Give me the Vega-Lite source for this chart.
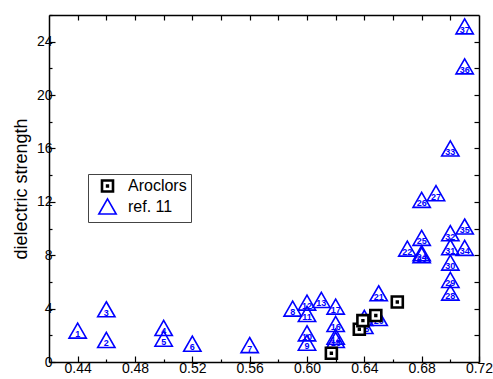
{
  "$schema": "https://vega.github.io/schema/vega-lite/v6.json",
  "width": 430,
  "height": 347,
  "autosize": {"type": "none"},
  "padding": {"left": 49, "top": 15, "right": 14, "bottom": 17},
  "background": "white",
  "config": {
    "view": {"stroke": null},
    "font": "Liberation Sans",
    "axis": {"grid": false, "domainColor": "black", "tickColor": "black", "labelColor": "black", "labelFontSize": 14, "domainWidth": 1.5, "tickWidth": 1.2, "titleColor": "black", "labelFont": "Liberation Sans", "titleFont": "Liberation Sans"}
  },
  "data": {"values": [
    {"series": "ref. 11", "x": 0.44, "y": 2.35, "label": "1"},
    {"series": "ref. 11", "x": 0.46, "y": 1.65, "label": "2"},
    {"series": "ref. 11", "x": 0.46, "y": 3.95, "label": "3"},
    {"series": "ref. 11", "x": 0.50, "y": 2.55, "label": "4"},
    {"series": "ref. 11", "x": 0.50, "y": 1.75, "label": "5"},
    {"series": "ref. 11", "x": 0.52, "y": 1.37, "label": "6"},
    {"series": "ref. 11", "x": 0.56, "y": 1.27, "label": "7"},
    {"series": "ref. 11", "x": 0.59, "y": 4.0, "label": "8"},
    {"series": "ref. 11", "x": 0.60, "y": 1.45, "label": "9"},
    {"series": "ref. 11", "x": 0.60, "y": 2.15, "label": "10"},
    {"series": "ref. 11", "x": 0.60, "y": 3.6, "label": "11"},
    {"series": "ref. 11", "x": 0.60, "y": 4.45, "label": "12"},
    {"series": "ref. 11", "x": 0.61, "y": 4.65, "label": "13"},
    {"series": "ref. 11", "x": 0.62, "y": 1.9, "label": "14"},
    {"series": "ref. 11", "x": 0.62, "y": 1.65, "label": "15"},
    {"series": "ref. 11", "x": 0.62, "y": 2.85, "label": "16"},
    {"series": "ref. 11", "x": 0.62, "y": 4.15, "label": "17"},
    {"series": "ref. 11", "x": 0.64, "y": 2.7, "label": "18"},
    {"series": "ref. 11", "x": 0.64, "y": 3.3, "label": "19"},
    {"series": "ref. 11", "x": 0.65, "y": 3.3, "label": "20"},
    {"series": "ref. 11", "x": 0.65, "y": 5.15, "label": "21"},
    {"series": "ref. 11", "x": 0.67, "y": 8.5, "label": "22"},
    {"series": "ref. 11", "x": 0.68, "y": 8.0, "label": "23"},
    {"series": "ref. 11", "x": 0.68, "y": 8.15, "label": "24"},
    {"series": "ref. 11", "x": 0.68, "y": 9.3, "label": "25"},
    {"series": "ref. 11", "x": 0.68, "y": 12.15, "label": "26"},
    {"series": "ref. 11", "x": 0.69, "y": 12.65, "label": "27"},
    {"series": "ref. 11", "x": 0.70, "y": 5.2, "label": "28"},
    {"series": "ref. 11", "x": 0.70, "y": 6.15, "label": "29"},
    {"series": "ref. 11", "x": 0.70, "y": 7.45, "label": "30"},
    {"series": "ref. 11", "x": 0.70, "y": 8.6, "label": "31"},
    {"series": "ref. 11", "x": 0.70, "y": 9.65, "label": "32"},
    {"series": "ref. 11", "x": 0.70, "y": 16.0, "label": "33"},
    {"series": "ref. 11", "x": 0.71, "y": 8.55, "label": "34"},
    {"series": "ref. 11", "x": 0.71, "y": 10.15, "label": "35"},
    {"series": "ref. 11", "x": 0.71, "y": 22.15, "label": "36"},
    {"series": "ref. 11", "x": 0.71, "y": 25.15, "label": "37"},
    {"series": "Aroclors", "x": 0.617, "y": 0.66, "label": ""},
    {"series": "Aroclors", "x": 0.6365, "y": 2.45, "label": ""},
    {"series": "Aroclors", "x": 0.639, "y": 3.1, "label": ""},
    {"series": "Aroclors", "x": 0.648, "y": 3.48, "label": ""},
    {"series": "Aroclors", "x": 0.663, "y": 4.5, "label": ""}
  ]},
  "layer": [
    {
      "transform": [{"filter": "datum.series === 'ref. 11'"}],
      "mark": {"type": "point", "opacity": 1},
      "encoding": {
        "x": {"field": "x", "type": "quantitative", "scale": {"domain": [0.42, 0.72], "nice": false, "zero": false},
          "axis": {"orient": "bottom", "title": null, "values": [0.44, 0.48, 0.52, 0.56, 0.6, 0.64, 0.68, 0.72], "format": ".2f", "tickSize": -6, "labelPadding": 5, "labelFlush": false, "labelOverlap": false}},
        "y": {"field": "y", "type": "quantitative", "scale": {"domain": [0, 26], "nice": false, "zero": true},
          "axis": {"orient": "left", "title": "dielectric strength", "titleFontSize": 18, "titleFontWeight": "normal", "titlePadding": 6, "values": [0, 4, 8, 12, 16, 20, 24], "tickSize": -6, "labelPadding": 3, "labelFlush": false, "labelOverlap": false}},
        "shape": {"field": "series", "type": "nominal", "scale": {"domain": ["Aroclors", "ref. 11"], "range": ["M-1,-1L1,-1L1,1L-1,1Z M-0.07,-0.07L0.07,-0.07L0.07,0.07L-0.07,0.07Z", "M0,-0.87L1,0.87L-1,0.87Z"]},
          "legend": {"title": null, "orient": "none", "legendX": 39, "legendY": 159, "strokeColor": "#444444", "padding": 4, "symbolOffset": 6, "labelOffset": 11, "labelFontSize": 16, "labelColor": "black", "labelFont": "Liberation Sans", "rowPadding": -4}},
        "stroke": {"field": "series", "type": "nominal", "scale": {"domain": ["Aroclors", "ref. 11"], "range": ["#000000", "#0000ff"]}},
        "fill": {"field": "series", "type": "nominal", "scale": {"domain": ["Aroclors", "ref. 11"], "range": ["#ffffff", "rgba(255,255,255,0)"]}},
        "size": {"field": "series", "type": "nominal", "scale": {"domain": ["Aroclors", "ref. 11"], "range": [121, 300]}},
        "strokeWidth": {"field": "series", "type": "nominal", "scale": {"domain": ["Aroclors", "ref. 11"], "range": [2.6, 1.6]}}
      }
    },
    {
      "transform": [{"filter": "datum.series === 'ref. 11'"}],
      "mark": {"type": "text", "fontSize": 9, "fontWeight": "bold", "dy": 3.5, "baseline": "middle", "align": "center", "color": "#0000ff"},
      "encoding": {
        "x": {"field": "x", "type": "quantitative",
          "axis": {"orient": "bottom", "title": null, "values": [0.46, 0.5, 0.54, 0.58, 0.62, 0.66, 0.7], "labels": false, "domain": false, "tickSize": -3}},
        "y": {"field": "y", "type": "quantitative",
          "axis": {"orient": "left", "title": null, "values": [2, 6, 10, 14, 18, 22, 26], "labels": false, "domain": false, "tickSize": -3}},
        "text": {"field": "label", "type": "nominal"}
      }
    },
    {
      "transform": [{"filter": "datum.series === 'Aroclors'"}],
      "mark": {"type": "point", "opacity": 1},
      "encoding": {
        "x": {"field": "x", "type": "quantitative",
          "axis": {"orient": "top", "title": null, "values": [0.44, 0.46, 0.48, 0.5, 0.52, 0.54, 0.56, 0.58, 0.6, 0.62, 0.64, 0.66, 0.68, 0.7], "labels": false, "tickSize": -5}},
        "y": {"field": "y", "type": "quantitative",
          "axis": {"orient": "right", "title": null, "values": [2, 4, 6, 8, 10, 12, 14, 16, 18, 20, 22, 24], "labels": false, "tickSize": -5}},
        "shape": {"field": "series", "type": "nominal"},
        "stroke": {"field": "series", "type": "nominal"},
        "fill": {"field": "series", "type": "nominal"},
        "size": {"field": "series", "type": "nominal"},
        "strokeWidth": {"field": "series", "type": "nominal"}
      }
    }
  ],
  "resolve": {"axis": {"x": "independent", "y": "independent"}}
}
